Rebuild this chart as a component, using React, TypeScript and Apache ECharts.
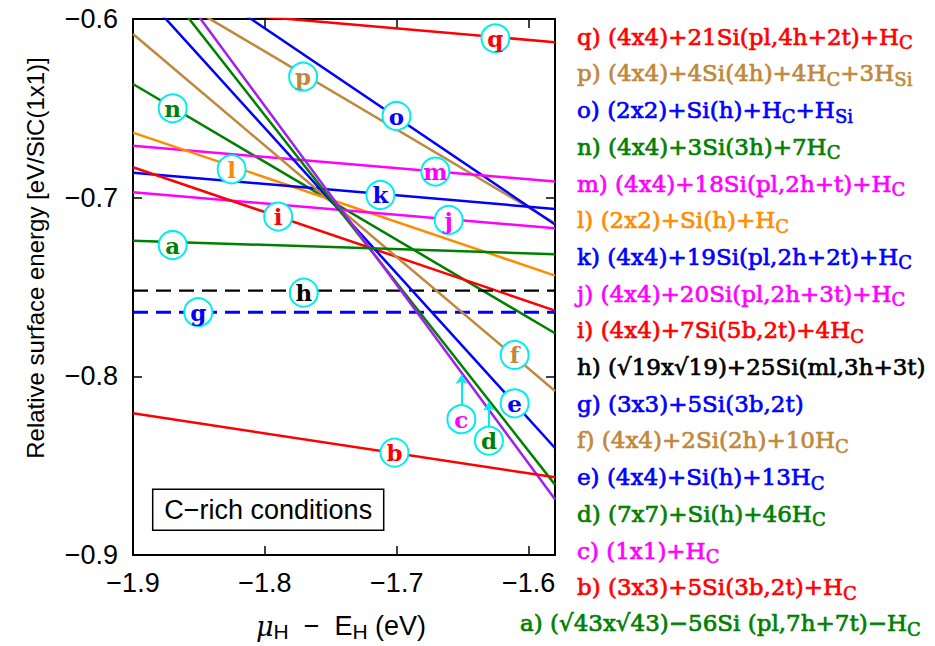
import React, { useEffect, useRef } from 'react';
import * as echarts from 'echarts';

// ---- data ----
const X_MIN = -1.9;
const X_MAX = -1.58;
const Y_MIN = -0.9;
const Y_MAX = -0.6;

const lineIds = ['q', 'p', 'o', 'n', 'm', 'l', 'k', 'j', 'i', 'h', 'g', 'f', 'e', 'd', 'c', 'b', 'a'];
// surface energy at mu = -1.9 eV (left end) and at -1.58 eV (right end)
const energyLeft = [-0.5924, -0.5745, -0.5553, -0.6364, -0.6709, -0.6636, -0.686, -0.697, -0.683, -0.752, -0.7641, -0.6084, -0.5797, -0.5599, -0.5487, -0.8207, -0.7241];
const energyRight = [-0.613, -0.7143, -0.715, -0.7759, -0.691, -0.7436, -0.7063, -0.7171, -0.7632, -0.752, -0.7641, -0.8082, -0.8401, -0.8606, -0.8688, -0.8565, -0.7317];
const lineColors = ['#ff0000', '#c0883c', '#0000ff', '#008000', '#ff00ff', '#ff8c00', '#0000ff', '#ff00ff', '#ff0000', '#000000', '#0000ff', '#c0883c', '#0000ff', '#008000', '#a020f0', '#ff0000', '#008000'];
const dashedIds = ['h', 'g'];

// circled label positions (data coords)
const labelX = [-1.6252, -1.771, -1.7002, -1.8699, -1.6707, -1.8252, -1.7124, -1.6606, -1.7899, -1.7705, -1.8505, -1.6106, -1.6106, -1.6301, -1.651, -1.7017, -1.8699];
const labelY = [-0.6108, -0.6323, -0.6543, -0.65, -0.6854, -0.6841, -0.6985, -0.7125, -0.7106, -0.7532, -0.7641, -0.788, -0.8151, -0.836, -0.824, -0.8427, -0.7265];
const labelColors = ['#ff0000', '#c0883c', '#0000ff', '#008000', '#ff00ff', '#ff8c00', '#0000ff', '#ff00ff', '#ff0000', '#000000', '#0000ff', '#c0883c', '#0000ff', '#008000', '#ff00ff', '#ff0000', '#008000'];

// arrows from label c and d to their lines
const arrowX = [-1.651, -1.6301];
const arrowFromY = [-0.8166, -0.8286];
const arrowToY = [-0.7992, -0.8142];

const legendTexts = [
  'q) (4x4)+21Si(pl,4h+2t)+H_C',
  'p) (4x4)+4Si(4h)+4H_C+3H_Si',
  'o) (2x2)+Si(h)+H_C+H_Si',
  'n) (4x4)+3Si(3h)+7H_C',
  'm) (4x4)+18Si(pl,2h+t)+H_C',
  'l) (2x2)+Si(h)+H_C',
  'k) (4x4)+19Si(pl,2h+2t)+H_C',
  'j) (4x4)+20Si(pl,2h+3t)+H_C',
  'i) (4x4)+7Si(5b,2t)+4H_C',
  'h) (√19x√19)+25Si(ml,3h+3t)',
  'g) (3x3)+5Si(3b,2t)',
  'f) (4x4)+2Si(2h)+10H_C',
  'e) (4x4)+Si(h)+13H_C',
  'd) (7x7)+Si(h)+46H_C',
  'c) (1x1)+H_C',
  'b) (3x3)+5Si(3b,2t)+H_C',
  'a) (√43x√43)−56Si (pl,7h+7t)−H_C',
];
const legendColors = ['#ff0000', '#c0883c', '#0000ff', '#008000', '#ff00ff', '#ff8c00', '#0000ff', '#ff00ff', '#ff0000', '#000000', '#0000ff', '#c0883c', '#0000ff', '#008000', '#ff00ff', '#ff0000', '#008000'];

const xTitle = 'μ_H  −  E_H (eV)';
const yTitle = 'Relative surface energy [eV/SiC(1x1)]';
const boxText = 'C−rich conditions';

function toRich(s: string): string {
  const parts = s.split(/_(C|Si|H)/);
  let out = '';
  parts.forEach((p, i) => {
    if (!p) return;
    if (p === 'μ') { out += '{g|μ}'; return; }
    out += i % 2 === 0 ? `{m|${p}}` : `{s|${p}}`;
  });
  return out;
}

const fmt = (v: number) => {
  if (Math.abs(v * 10 - Math.round(v * 10)) > 1e-6) return '';
  return v.toFixed(1).replace('-', '−');
};

export default function App() {
  const ref = useRef<HTMLDivElement>(null);
  useEffect(() => {
    if (!ref.current) return;
    const chart = echarts.init(ref.current, null, { renderer: 'svg' });

    const axisCommon = {
      type: 'value' as const,
      axisLine: { show: true, onZero: false, lineStyle: { color: '#000', width: 2 } },
      axisTick: { show: true, inside: true, length: 9, lineStyle: { color: '#000', width: 1.5 } },
      splitLine: { show: false },
    };
    const tickFont = { fontFamily: 'Liberation Sans', fontSize: 27, color: '#000' };

    const lineSeries = lineIds.map((id, i) => ({
      type: 'line',
      name: id,
      data: [[X_MIN, energyLeft[i]], [X_MAX, energyRight[i]]],
      showSymbol: false,
      symbol: 'none',
      clip: true,
      silent: true,
      z: 2,
      lineStyle: {
        color: lineColors[i],
        width: dashedIds.includes(id) ? (id === 'g' ? 3 : 2.2) : 2.5,
        type: dashedIds.includes(id) ? [15, 8] : 'solid',
      },
    }));

    const arrowSeries = {
      type: 'line',
      data: [],
      silent: true,
      z: 3,
      markLine: {
        silent: true,
        animation: false,
        symbol: ['none', 'arrow'],
        symbolSize: 9,
        label: { show: false },
        lineStyle: { color: '#00eeee', width: 2, type: 'solid' },
        data: arrowX.map((x, i) => [
          { coord: [x, arrowFromY[i]] },
          { coord: [x, arrowToY[i]] },
        ]),
      },
    };

    const labelSeries = {
      type: 'scatter',
      z: 5,
      silent: true,
      symbol: 'circle',
      symbolSize: 28,
      itemStyle: { color: '#ffffff', borderColor: '#00eeee', borderWidth: 2, opacity: 1 },
      label: {
        show: true,
        position: 'inside',
        formatter: (p: any) => p.name,
        fontFamily: 'DejaVu Serif',
        fontWeight: 'bold',
        fontSize: 23,
      },
      data: lineIds.map((id, i) => ({
        name: id,
        value: [labelX[i], labelY[i]],
        label: { color: labelColors[i] },
      })),
    };

    const legendGraphics = legendTexts.map((t, i) => {
      const isA = i === legendTexts.length - 1;
      const c = legendColors[i];
      return {
        type: 'text',
        x: isA ? 520 : 577,
        y: isA ? 623 : 36.7 + i * 36.7,
        silent: true,
        style: {
          text: toRich(t),
          fill: c,
          stroke: c,
          lineWidth: 0.7,
          align: 'left',
          verticalAlign: 'middle',
          textAlign: 'left',
          textVerticalAlign: 'middle',
          rich: {
            m: { fontFamily: 'DejaVu Serif', fontSize: 23, lineHeight: 30, verticalAlign: 'middle', fill: c, stroke: c, lineWidth: 0.7 },
            s: { fontFamily: 'DejaVu Serif', fontSize: 18, lineHeight: 17, verticalAlign: 'bottom', fill: c, stroke: c, lineWidth: 0.6 },
          },
        },
      };
    });

    chart.setOption({
      animation: false,
      grid: { left: 133, right: 380, top: 19, bottom: 91, show: true, borderColor: '#000', borderWidth: 2, backgroundColor: 'transparent' },
      xAxis: [
        { ...axisCommon, min: X_MIN, max: X_MAX, interval: 0.1, position: 'bottom', axisLabel: { ...tickFont, margin: 14, formatter: fmt, showMaxLabel: true } },
        { ...axisCommon, min: X_MIN, max: X_MAX, interval: 0.1, position: 'top', axisLabel: { show: false } },
      ],
      yAxis: [
        { ...axisCommon, min: Y_MIN, max: Y_MAX, interval: 0.1, position: 'left', axisLabel: { ...tickFont, margin: 15, formatter: fmt } },
        { ...axisCommon, min: Y_MIN, max: Y_MAX, interval: 0.1, position: 'right', axisLabel: { show: false } },
      ],
      series: [...lineSeries, arrowSeries, labelSeries],
      graphic: [
        ...legendGraphics,
        {
          type: 'rect',
          shape: { x: 152.7, y: 489.3, width: 231, height: 41 },
          style: { fill: '#fff', stroke: '#000', lineWidth: 1.5 },
          z: 10,
          silent: true,
        },
        {
          type: 'text',
          x: 268.2,
          y: 510,
          z: 11,
          silent: true,
          style: {
            text: boxText,
            fill: '#000',
            font: '27px "Liberation Sans"',
            fontFamily: 'Liberation Sans',
            fontSize: 27,
            align: 'center',
            verticalAlign: 'middle',
            textAlign: 'center',
            textVerticalAlign: 'middle',
          },
        },
        {
          type: 'text',
          x: 341,
          y: 626,
          silent: true,
          style: {
            text: toRich(xTitle),
            fill: '#000',
            align: 'center',
            verticalAlign: 'middle',
            textAlign: 'center',
            textVerticalAlign: 'middle',
            rich: {
              g: { fontFamily: 'DejaVu Serif', fontStyle: 'italic', fontSize: 27, lineHeight: 32, verticalAlign: 'middle', fill: '#000' },
              m: { fontFamily: 'Liberation Sans', fontSize: 27, lineHeight: 32, verticalAlign: 'middle', fill: '#000' },
              s: { fontFamily: 'Liberation Sans', fontSize: 21, lineHeight: 20, verticalAlign: 'bottom', fill: '#000' },
            },
          },
        },
        {
          type: 'text',
          x: 35,
          y: 258,
          rotation: Math.PI / 2,
          silent: true,
          style: {
            text: yTitle,
            fill: '#000',
            fontFamily: 'Liberation Sans',
            fontSize: 24,
            font: '24px "Liberation Sans"',
            align: 'center',
            verticalAlign: 'middle',
            textAlign: 'center',
            textVerticalAlign: 'middle',
          },
        },
      ],
    });
    return () => chart.dispose();
  }, []);
  return <div ref={ref} style={{ position: 'absolute', left: 0, top: 0, width: 935, height: 646 }} />;
}
